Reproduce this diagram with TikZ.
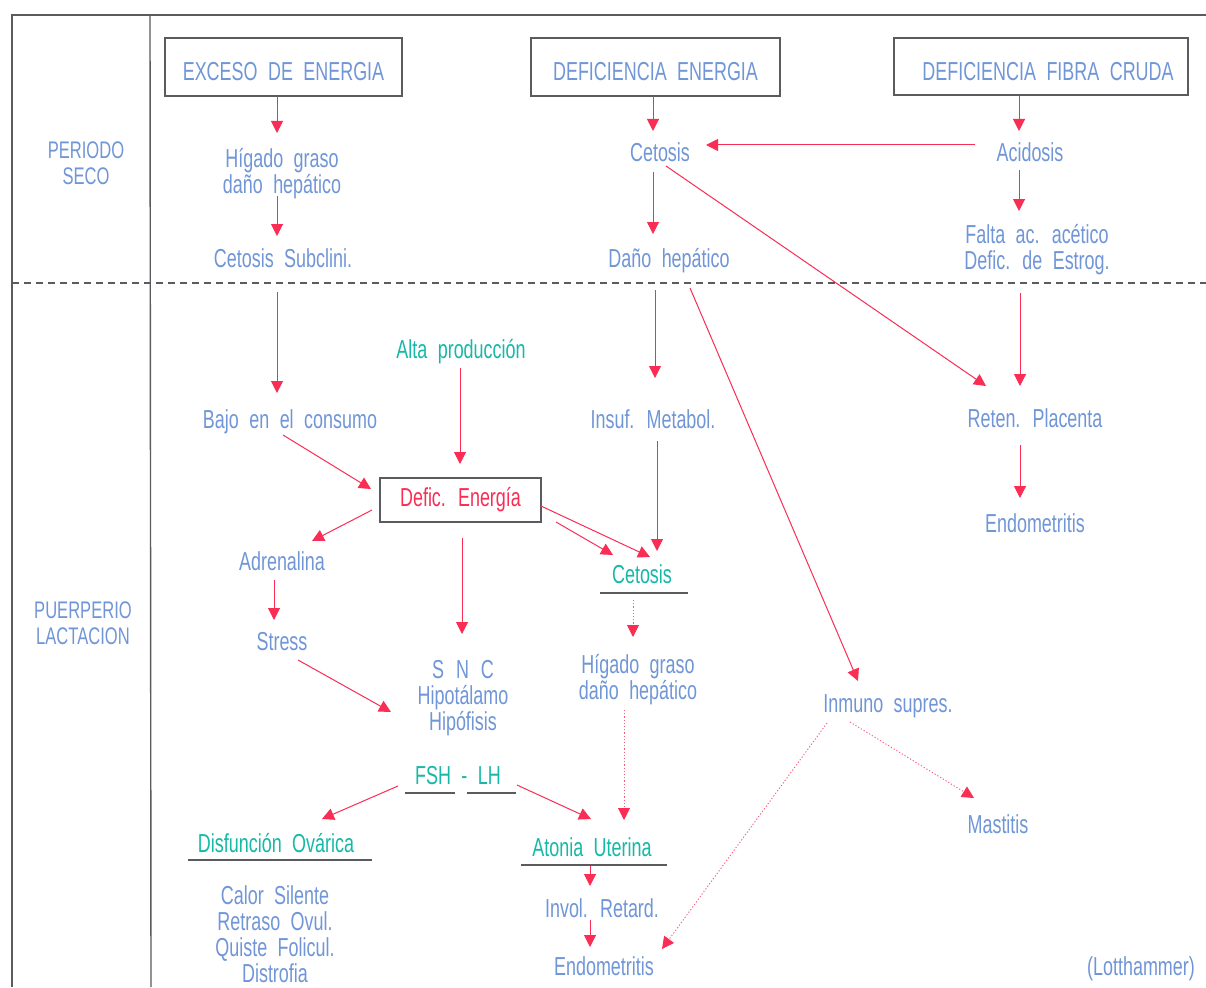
\documentclass[tikz,border=0pt]{standalone}
\usepackage{fontspec}
\setmainfont[FakeStretch=0.69,WordSpace=2.1]{Liberation Sans}
\usetikzlibrary{arrows.meta}
\definecolor{tblue}{RGB}{112,150,215}
\definecolor{tteal}{RGB}{22,185,168}
\definecolor{ared}{RGB}{250,45,85}
\definecolor{fgray}{RGB}{90,90,95}
\tikzset{
  txt/.style={text=tblue,font=\fontsize{26}{26}\selectfont,inner sep=0pt,text height=18pt,text depth=6pt},
  ml/.style={text=tblue,font=\fontsize{26}{26}\selectfont,inner sep=0pt,align=center},
  tl/.style={txt,text=tteal},
  bigbox/.style={draw=fgray,line width=1.3pt,text=tblue,font=\fontsize{26}{26}\selectfont,inner sep=0pt,text height=28pt,text depth=0pt},
  arr/.style={draw=ared,line width=1pt,-{Triangle[length=12pt,width=12pt]}},
  dotarr/.style={draw=ared!80,line width=0.9pt,dash pattern=on 1.2pt off 2pt,-{Triangle[length=12pt,width=12pt,color=ared]}},
  uline/.style={draw=fgray,line width=1.2pt},
  frame/.style={draw=fgray,line width=1.4pt}
}
\begin{document}
\begin{tikzpicture}[x=1pt,y=-1pt]
\useasboundingbox[fill=white] (0,0) rectangle (1206,987);
% frame
\draw[frame] (11,15) -- (1206,15);
\draw[frame] (12,15) -- (12,987);
\draw[frame] (150,15) -- (151,987);
\draw[fgray,line width=1.2pt,dash pattern=on 7pt off 5pt] (12,283) -- (1206,283);
% side labels
\node[ml,font=\fontsize{24}{26}\selectfont] (ps) at (86,163) {PERIODO\\SECO};
\node[ml,font=\fontsize{24}{26}\selectfont] (pl) at (83,623) {PUERPERIO\\LACTACION};
% top boxes
\node[bigbox,minimum width=237pt,minimum height=58pt] (ex) at (283.5,67) {EXCESO DE ENERGIA};
\node[bigbox,minimum width=249pt,minimum height=58pt] (de) at (655.5,67) {DEFICIENCIA ENERGIA};
\node[bigbox,minimum width=294pt,minimum height=57pt] (df) at (1041,66.5) {\hspace{14pt}DEFICIENCIA FIBRA CRUDA};
% nodes
\node[ml] (hg1) at (282,174) {Hígado graso\\daño hepático};
\node[txt] (cs) at (283,261) {Cetosis Subclini.};
\node[txt] (ce1) at (660,156) {Cetosis};
\node[txt] (ac) at (1030,156) {Acidosis};
\node[txt] (dh) at (669,261) {Daño hepático};
\node[ml] (fa) at (1037,250) {Falta ac. acético\\Defic. de Estrog.};
\node[txt] (bc) at (290,422) {Bajo en el consumo};
\node[tl] (ap) at (461,352) {Alta producción};
\node[txt] (im) at (653,422) {Insuf. Metabol.};
\node[txt] (rp) at (1035,421) {Reten. Placenta};
\node[txt] (en1) at (1035,526) {Endometritis};
\node[draw=fgray,line width=1.3pt,text=ared,font=\fontsize{26}{26}\selectfont,inner sep=0pt,text height=18pt,text depth=6pt,minimum width=161pt,minimum height=44pt] (dfe) at (460.5,500) {Defic. Energía};
\node[txt] (ad) at (282,564) {Adrenalina};
\node[tl] (ce2) at (642,577) {Cetosis};
\node[txt] (st) at (282,644) {Stress};
\node[ml] (snc) at (463,698) {S\hspace{12pt}N\hspace{12pt}C\\Hipotálamo\\Hipófisis};
\node[ml] (hg2) at (638,680) {Hígado graso\\daño hepático};
\node[txt] (is) at (888,706) {Inmuno supres.};
\node[tl] (fsh) at (458,778) {FSH - LH};
\node[txt] (ms) at (998,827) {Mastitis};
\node[tl] (dov) at (276,846) {Disfunción Ovárica};
\node[tl] (au) at (592,850) {Atonia Uterina};
\node[ml] (cal) at (275,934) {Calor Silente\\Retraso Ovul.\\Quiste Folicul.\\Distrofia};
\node[txt] (ir) at (602,911) {Invol. Retard.};
\node[txt] (en2) at (604,969) {Endometritis};
\node[txt] (lot) at (1141,969) {(Lotthammer)};
% underlines
\draw[uline] ([shift={(-42,16)}]ce2.center) -- ([shift={(46,16)}]ce2.center);
\draw[uline] ([shift={(-88,14)}]dov.center) -- ([shift={(96,14)}]dov.center);
\draw[uline] ([shift={(-71,15)}]au.center) -- ([shift={(75,15)}]au.center);
\draw[uline] ([shift={(-53,15)}]fsh.center) -- ([shift={(-3,15)}]fsh.center);
\draw[uline] ([shift={(9,15)}]fsh.center) -- ([shift={(58,15)}]fsh.center);
% arrows
\draw[arr] ([shift={(-6.5,29)}]ex.center) -- ([shift={(-5,-41)}]hg1.center);
\draw[arr] ([shift={(-5,22)}]hg1.center) -- ([shift={(-6,-25)}]cs.center);
\draw[arr] ([shift={(-6,31)}]cs.center) -- ([shift={(-13,-29)}]bc.center);
\draw[arr] ([shift={(-1,16)}]ap.center) -- ([shift={(-0.5,-36)}]dfe.center);
\draw[arr] ([shift={(-7,13)}]bc.center) -- ([shift={(-89.5,-11)}]dfe.center);
\draw[arr] ([shift={(-88.5,10)}]dfe.center) -- ([shift={(30,-23)}]ad.center);
\draw[arr] ([shift={(-8,16)}]ad.center) -- ([shift={(-8,-24)}]st.center);
\draw[arr] ([shift={(16,16)}]st.center) -- ([shift={(-72,14)}]snc.center);
\draw[arr] ([shift={(1.5,38)}]dfe.center) -- ([shift={(-1,-64)}]snc.center);
\draw[arr] ([shift={(-60,8)}]fsh.center) -- ([shift={(46,-27)}]dov.center);
\draw[arr] ([shift={(59,7)}]fsh.center) -- ([shift={(-1,-31)}]au.center);
\draw[arr] ([shift={(-2,16)}]au.center) -- ([shift={(-12,-25)}]ir.center);
\draw[arr] ([shift={(-12,9)}]ir.center) -- ([shift={(-14,-22)}]en2.center);
\draw[arr] ([shift={(-2.5,29)}]de.center) -- ([shift={(-7,-25)}]ce1.center);
\draw[arr] ([shift={(-55,-11)}]ac.center) -- ([shift={(46,-11)}]ce1.center);
\draw[arr] ([shift={(-7,16)}]ce1.center) -- ([shift={(-16,-27)}]dh.center);
\draw[arr] ([shift={(6,10)}]ce1.center) -- ([shift={(-49,-35)}]rp.center);
\draw[arr] ([shift={(-14,29)}]dh.center) -- ([shift={(2,-44)}]im.center);
\draw[arr] ([shift={(4,19)}]im.center) -- ([shift={(15,-26)}]ce2.center);
\draw[arr] ([shift={(21,27)}]dh.center) -- ([shift={(-30,-25)}]is.center);
\draw[arr] ([shift={(-22,29.5)}]df.center) -- ([shift={(-11,-25)}]ac.center);
\draw[arr] ([shift={(-11,14)}]ac.center) -- ([shift={(-18,-39)}]fa.center);
\draw[arr] ([shift={(-17,43)}]fa.center) -- ([shift={(-15,-35)}]rp.center);
\draw[arr] ([shift={(-15,24)}]rp.center) -- ([shift={(-15,-28)}]en1.center);
\draw[arr] ([shift={(80.5,6)}]dfe.center) -- ([shift={(8,-20)}]ce2.center);
\draw[arr] ([shift={(95.5,22)}]dfe.center) -- ([shift={(-29,-22)}]ce2.center);
\draw[dotarr] ([shift={(-9,23)}]ce2.center) -- ([shift={(-9,-43)}]ce2.center |- hg2.center);
\draw[dotarr] ([shift={(-14,30)}]hg2.center) -- ([shift={(32,-30)}]au.center);
\draw[dotarr] ([shift={(-38,16)}]is.center) -- ([shift={(-24,-29)}]ms.center);
\draw[dotarr] ([shift={(-61,17)}]is.center) -- ([shift={(58,-20)}]en2.center);
\end{tikzpicture}
\end{document}
